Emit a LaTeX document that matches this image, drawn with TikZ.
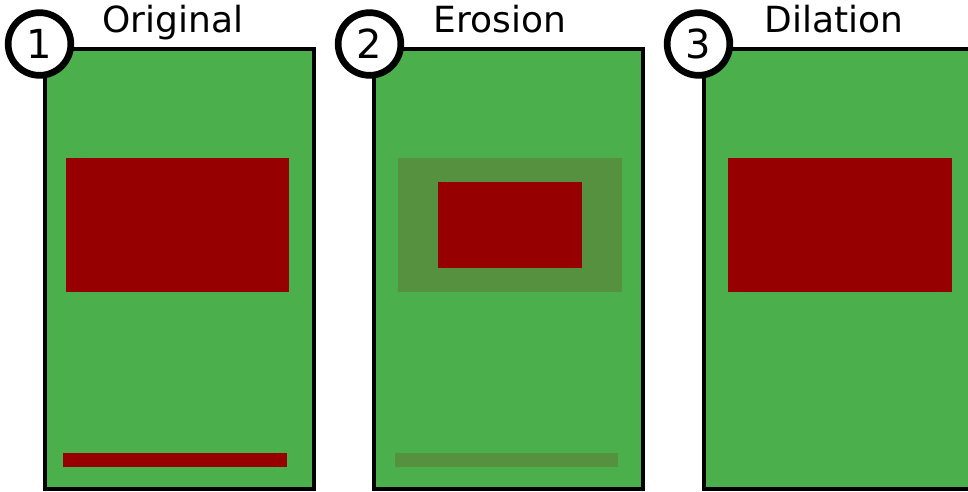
\documentclass[tikz,border=0pt]{standalone}
\usepackage{fontspec}
\setmainfont{DejaVu Sans}

\definecolor{leaf}{RGB}{75,175,76}
\definecolor{blood}{RGB}{150,0,0}
\definecolor{faded}{RGB}{86,145,64}

\tikzset{
  panel/.style={fill=leaf, draw=black, line width=2.7pt},
  badge/.style={circle, draw=black, fill=white, line width=5pt, minimum size=47pt, inner sep=0pt, font=\fontsize{30}{30}\selectfont},
  title/.style={anchor=base, inner sep=0pt, font=\fontsize{27}{27}\selectfont}
}

\begin{document}
\begin{tikzpicture}[x=0.75pt, y=-0.75pt]
  \useasboundingbox (0,0) rectangle (968,492);
  \clip (0,0) rectangle (968,492);

  % original
  \draw[panel] (45,49) rectangle (314,489);
  \fill[blood] (66,158) rectangle (289,292);
  \fill[blood] (63,453) rectangle (287,467);
  \node[badge] (one) at (39.5,44) {1};
  \node[title] (original) at (173,33) {Original};

  % erosion
  \draw[panel] (374,49) rectangle (643,489);
  \fill[faded] (398,158) rectangle (622,292);
  \fill[blood] (438,182) rectangle (582,268);
  \fill[faded] (395,453) rectangle (618,467);
  \node[badge] (two) at (369.5,44) {2};
  \node[title] (erosion) at (500,33) {Erosion};

  % dilation
  \draw[panel] (704,49) rectangle (974,489);
  \fill[blood] (728,158) rectangle (952,292);
  \node[badge] (three) at (698.5,44) {3};
  \node[title] (dilation) at (834,33) {Dilation};
\end{tikzpicture}
\end{document}
